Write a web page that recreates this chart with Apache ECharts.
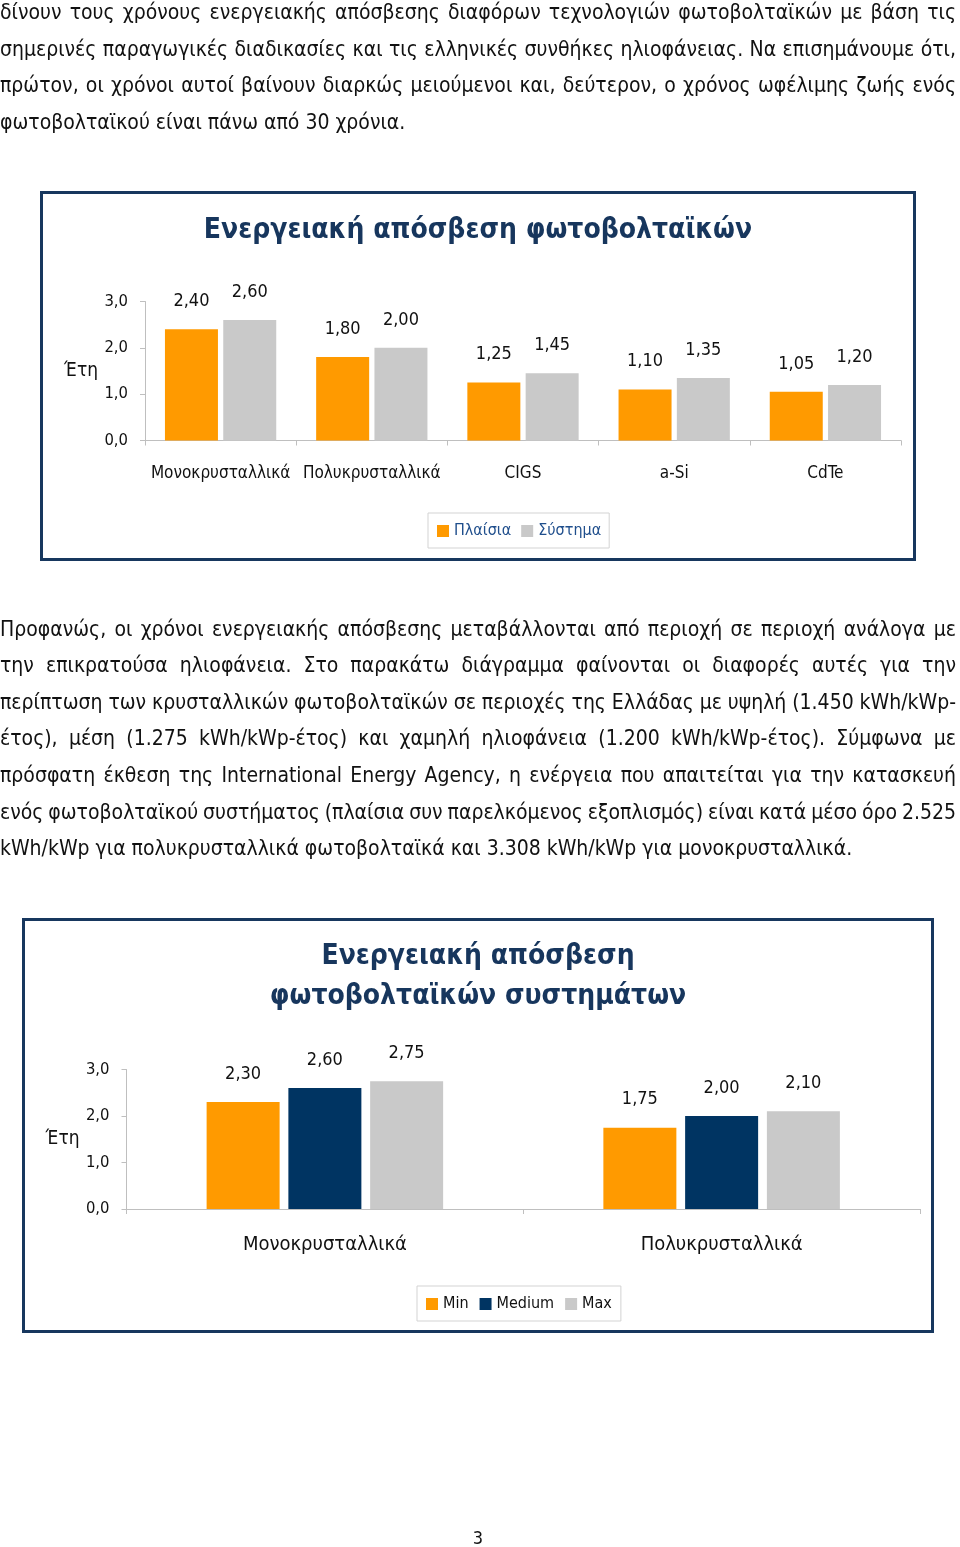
<!DOCTYPE html>
<html>
<head>
<meta charset="utf-8">
<script src="https://cdn.jsdelivr.net/npm/echarts@6/dist/echarts.min.js"></script>
<style>
  html, body { margin: 0; padding: 0; background: #fff; }
  #page { position: relative; width: 960px; height: 1547px; overflow: hidden; }
  #chart { position: absolute; left: 0; top: 0; width: 960px; height: 1547px; }
  .box { position: absolute; border: 3px solid #17375E; box-sizing: border-box; }
  .line { position: absolute; left: 0; width: 956px; white-space: nowrap; color: #111;
          font-family: "DejaVu Sans Condensed", "DejaVu Sans", sans-serif; line-height: 24px; height: 24px; }
  .j { text-align: justify; text-align-last: justify; }
  #pn { position: absolute; left: 0; width: 956px; text-align: center; top: 1527px;
        font-family: "DejaVu Sans Condensed", sans-serif; font-size: 18px; color: #111; }
</style>
</head>
<body>
<div id="page">
  <div class="box" style="left:40px;top:191px;width:876px;height:370px;"></div>
  <div class="box" style="left:22px;top:918px;width:912px;height:415px;"></div>
  <div id="chart"></div>
  <div id="text"></div>
  <div id="pn">3</div>
</div>
<script>
// ---- data ----
const techCategories = ['Μονοκρυσταλλικά', 'Πολυκρυσταλλικά', 'CIGS', 'a-Si', 'CdTe'];
const panelsValues = [2.40, 1.80, 1.25, 1.10, 1.05];   // Πλαίσια
const systemValues = [2.60, 2.00, 1.45, 1.35, 1.20];   // Σύστημα

const crystCategories = ['Μονοκρυσταλλικά', 'Πολυκρυσταλλικά'];
const minValues = [2.30, 1.75];
const mediumValues = [2.60, 2.00];
const maxValues = [2.75, 2.10];

const yTicks = [0, 1, 2, 3];

// ---- body text ----
const para1 = [
  'δίνουν τους χρόνους ενεργειακής απόσβεσης διαφόρων τεχνολογιών φωτοβολταϊκών με βάση τις',
  'σημερινές παραγωγικές διαδικασίες και τις ελληνικές συνθήκες ηλιοφάνειας. Να επισημάνουμε ότι,',
  'πρώτον, οι χρόνοι αυτοί βαίνουν διαρκώς μειούμενοι και, δεύτερον, ο χρόνος ωφέλιμης ζωής ενός',
  'φωτοβολταϊκού είναι πάνω από 30 χρόνια.'
];
const para2 = [
  'Προφανώς, οι χρόνοι ενεργειακής απόσβεσης μεταβάλλονται από περιοχή σε περιοχή ανάλογα με',
  'την επικρατούσα ηλιοφάνεια. Στο παρακάτω διάγραμμα φαίνονται οι διαφορές αυτές για την',
  'περίπτωση των κρυσταλλικών φωτοβολταϊκών σε περιοχές της Ελλάδας με υψηλή (1.450 kWh/kWp-',
  'έτος), μέση (1.275 kWh/kWp-έτος) και χαμηλή ηλιοφάνεια (1.200 kWh/kWp-έτος). Σύμφωνα με',
  'πρόσφατη έκθεση της International Energy Agency, η ενέργεια που απαιτείται για την κατασκευή',
  'ενός φωτοβολταϊκού συστήματος (πλαίσια συν παρελκόμενος εξοπλισμός) είναι κατά μέσο όρο 2.525',
  'kWh/kWp για πολυκρυσταλλικά φωτοβολταϊκά και 3.308 kWh/kWp για μονοκρυσταλλικά.'
];

(function buildText() {
  const fam = '"DejaVu Sans Condensed", "DejaVu Sans", sans-serif';
  const c = document.createElement('canvas').getContext('2d');
  c.font = '20px ' + fam;
  const w = c.measureText(para2[para2.length - 1]).width;
  const fs = 20 * 852 / w;
  c.font = fs.toFixed(2) + 'px ' + fam;
  const host = document.getElementById('text');
  function put(lines, y0) {
    lines.forEach((t, i) => {
      const d = document.createElement('div');
      const justified = i < lines.length - 1;
      d.className = 'line' + (justified ? ' j' : '');
      d.style.fontSize = fs.toFixed(2) + 'px';
      d.style.top = (y0 + i * 36.6 - 12) + 'px';
      if (justified) {
        const nw = c.measureText(t).width;
        const spaces = (t.match(/ /g) || []).length;
        if (nw > 950 && spaces) d.style.wordSpacing = ((950 - nw) / spaces).toFixed(2) + 'px';
      }
      d.textContent = t;
      host.appendChild(d);
    });
  }
  put(para1, 12);
  put(para2, 628.5);
})();

// ---- chart ----
const FONT = '"DejaVu Sans Condensed", "DejaVu Sans", sans-serif';
const fmtAxis = v => v.toFixed(1).replace('.', ',');
const fmtVal = p => p.value.toFixed(2).replace('.', ',');
const C_OR = '#FF9A00', C_GR = '#C9C9C9', C_NV = '#003462';

function yAxis(gi, nameGap, nameSize) {
  return {
    type: 'value', gridIndex: gi, min: yTicks[0], max: yTicks[yTicks.length - 1], interval: 1,
    name: 'Έτη', nameLocation: 'middle', nameRotate: 0, nameGap: nameGap,
    nameTextStyle: { fontFamily: FONT, fontSize: nameSize, color: '#111' },
    axisLine: { show: true, lineStyle: { color: '#BFBFBF', width: 1 } },
    axisTick: { show: true, length: 5, lineStyle: { color: '#BFBFBF' } },
    splitLine: { show: false },
    axisLabel: { formatter: fmtAxis, margin: 17, fontFamily: FONT, fontSize: 16.5, color: '#111',
                 padding: [0, 0, 3, 0] }
  };
}
function xAxis(gi, cats, size, margin) {
  return {
    type: 'category', gridIndex: gi, data: cats,
    axisLine: { show: true, lineStyle: { color: '#BFBFBF', width: 1 } },
    axisTick: { show: true, length: 5, lineStyle: { color: '#BFBFBF' } },
    axisLabel: { margin: margin, fontFamily: FONT, fontSize: size, color: '#111', interval: 0 }
  };
}
function bar(name, data, color, axIdx, width, gap) {
  return {
    name: name, type: 'bar', xAxisIndex: axIdx, yAxisIndex: axIdx, data: data,
    barWidth: width, barGap: gap, itemStyle: { color: color },
    label: { show: true, position: 'top', distance: 19, formatter: fmtVal,
             fontFamily: FONT, fontSize: 18, color: '#111' }
  };
}

const chart = echarts.init(document.getElementById('chart'), null, { renderer: 'canvas' });
chart.setOption({
  animation: false,
  title: [
    { text: 'Ενεργειακή απόσβεση φωτοβολταϊκών', left: 478, top: 217, textAlign: 'center', padding: 0,
      textStyle: { fontFamily: FONT, fontSize: 28, fontWeight: 'bold', color: '#17365D' } },
    { text: 'Ενεργειακή απόσβεση\nφωτοβολταϊκών συστημάτων', left: 478, top: 937, textAlign: 'center', padding: 0,
      textStyle: { fontFamily: FONT, fontSize: 28, fontWeight: 'bold', color: '#17365D', lineHeight: 40 } }
  ],
  legend: [
    { data: ['Πλαίσια', 'Σύστημα'], left: 428, top: 513, orient: 'horizontal',
      icon: 'rect', itemWidth: 12, itemHeight: 12, itemGap: 10,
      padding: [10, 8, 9, 9], borderColor: '#D3D3D3', borderWidth: 1,
      textStyle: { fontFamily: FONT, fontSize: 16, color: '#1F4E8C' } },
    { data: ['Min', 'Medium', 'Max'], left: 417, top: 1286, orient: 'horizontal',
      icon: 'rect', itemWidth: 12, itemHeight: 12, itemGap: 11,
      padding: [10, 9, 9, 9], borderColor: '#D3D3D3', borderWidth: 1,
      textStyle: { fontFamily: FONT, fontSize: 16, color: '#111' } }
  ],
  grid: [
    { left: 145, top: 301.5, width: 756, height: 139, containLabel: false },
    { left: 126.5, top: 1069.5, width: 793.5, height: 139.5, containLabel: false }
  ],
  xAxis: [ xAxis(0, techCategories, 17, 25), xAxis(1, crystCategories, 20, 26) ],
  yAxis: [ yAxis(0, 47, 19), yAxis(1, 47, 19) ],
  series: [
    bar('Πλαίσια', panelsValues, C_OR, 0, 53, '10%'),
    bar('Σύστημα', systemValues, C_GR, 0, 53, '10%'),
    bar('Min', minValues, C_OR, 1, 73, '12%'),
    bar('Medium', mediumValues, C_NV, 1, 73, '12%'),
    bar('Max', maxValues, C_GR, 1, 73, '12%')
  ]
});
</script>
</body>
</html>
